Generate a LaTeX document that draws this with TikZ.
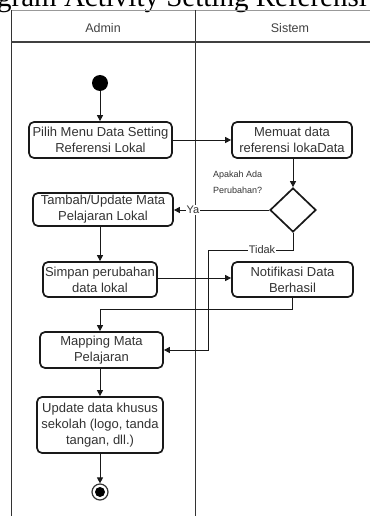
\documentclass[tikz,border=0pt]{standalone}
\usepackage{fontspec}
\setmainfont{Liberation Sans}
\newfontfamily\titlefont{Liberation Serif}
\usetikzlibrary{shapes.geometric,arrows.meta}

\begin{document}
\begin{tikzpicture}[x=1pt,y=-1pt,
  act/.style={draw=black!90, line width=1.7pt, rounded corners=5pt, align=center,
    font=\fontsize{13}{16}\selectfont, text=black!80, inner sep=0pt, fill=white},
  decision/.style={diamond, draw=black!90, line width=1.7pt, fill=white,
    minimum width=46pt, minimum height=44pt, inner sep=0pt},
  flow/.style={draw=black!90, line width=0.9pt, -{Triangle[length=6pt,width=6pt]}},
  lane/.style={draw=black!80, line width=0.8pt},
  guard/.style={font=\fontsize{11}{12}\selectfont, text=black!80, fill=white, inner sep=1pt},
  header/.style={font=\fontsize{12.5}{14}\selectfont, text=black!75}]
\useasboundingbox (0,0) rectangle (370,516);

% heading line, cut by the page edge
\begin{scope}
  \clip (0,0) rectangle (370,516);
  \node[font=\titlefont\fontsize{29}{30}\selectfont, anchor=base west, inner sep=0pt]
    (title) at (-3,7) {gram Activity Setting Referensi};
\end{scope}

% swimlanes
\draw[draw=black!40, line width=0.6pt] (11,10) -- (370,10);
\draw[lane] (11,10) -- (11,516);
\draw[lane] (195,10) -- (195,516);
\draw[draw=black!75, line width=1.2pt] (11,42) -- (370,42);
\node[header] (admin) at (103,28) {Admin};
\node[header] (sistem) at (290,28) {Sistem};

% start
\node[circle, fill=black, minimum size=16pt, inner sep=0pt] (start) at (100,83) {};

% actions
\node[act, minimum width=143pt, minimum height=36pt] (pilih) at (100.5,140)
  {Pilih Menu Data Setting\\Referensi Lokal};
\node[act, minimum width=120pt, minimum height=36pt] (memuat) at (292,140)
  {Memuat data\\referensi lokaData};
\node[decision] (ada) at (293,210) {};
\node[font=\fontsize{9}{16}\selectfont, text=black!80, align=left, anchor=west, inner sep=0pt]
  (tanya) at (213,182) {Apakah Ada\\Perubahan?};
\node[act, minimum width=140pt, minimum height=33pt] (tambah) at (103,209.5)
  {Tambah/Update Mata\\Pelajaran Lokal};
\node[act, minimum width=114pt, minimum height=35pt] (simpan) at (100,279.5)
  {Simpan perubahan\\data lokal};
\node[act, minimum width=121pt, minimum height=35pt] (notif) at (292.5,279.5)
  {Notifikasi Data\\Berhasil};
\node[act, minimum width=123pt, minimum height=36pt] (mapping) at (101.5,350)
  {Mapping Mata\\Pelajaran};
\node[act, minimum width=126pt, minimum height=56pt] (khusus) at (100,425)
  {Update data khusus\\sekolah (logo, tanda\\tangan, dll.)};

% end
\node[circle, draw=black!80, line width=1.2pt, minimum size=16pt, inner sep=0pt] (end) at (100,492) {};
\fill[black] (end.center) circle (5pt);

% connectors
\draw[flow] (start) -- (start |- pilih.north);
\draw[flow] (pilih.east) -- (memuat.west);
\draw[flow] (memuat.south -| ada) -- (ada.north);
\draw[flow] (ada.west) -- (ada.west -| tambah.east)
  node[guard, pos=0.8] (ya) {Ya};
\draw[flow] (tambah.south -| simpan) -- (simpan.north);
\draw[flow] (simpan.east |- 0,278) -- (notif.west |- 0,278);
\coordinate (tidakturn) at (208,250);
\draw[flow] (ada.south) |- (tidakturn) |- (mapping.east);
\node[guard] (tidak) at (262,250) {Tidak};
\coordinate (notifturn) at (100,309);
\draw[flow] (notif.south) |- (notifturn) -- (notifturn |- mapping.north);
\draw[flow] (mapping.south -| khusus) -- (khusus.north);
\draw[flow] (khusus.south) -- (end.north);
\end{tikzpicture}
\end{document}
